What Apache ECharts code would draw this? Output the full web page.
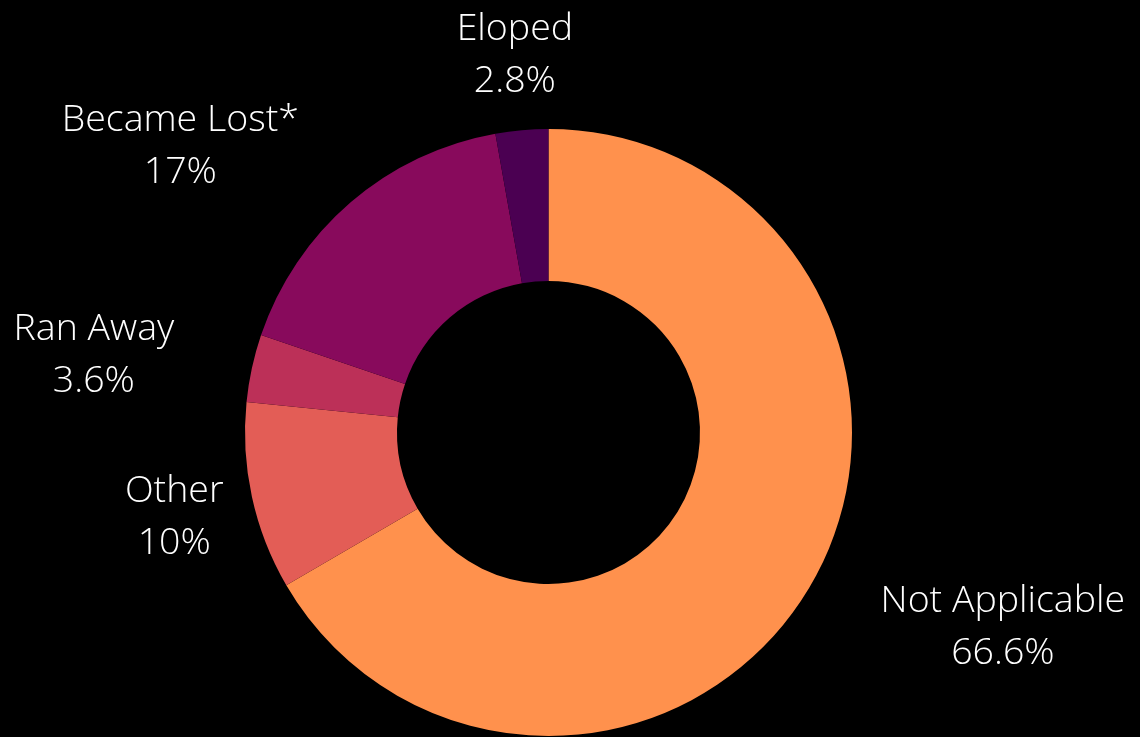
<!DOCTYPE html>
<html>
<head>
<meta charset="utf-8">
<script src="https://cdn.jsdelivr.net/npm/echarts@6/dist/echarts.min.js"></script>
<style>
  html, body { margin: 0; padding: 0; background: #000; }
  #chart { width: 1140px; height: 737px; }
</style>
</head>
<body>
<div id="chart"></div>
<script>
// Outcome categories, clockwise from 12 o'clock
const categories = ['Not Applicable', 'Other', 'Ran Away', 'Became Lost*', 'Eloped'];
const shares = [66.6, 10, 3.6, 17, 2.8];
const sliceColors = ['#ff914d', '#e35d56', '#bc3058', '#880a5c', '#4b0052'];

const CX = 548.5, CY = 432.5;      // pie centre (px)
const R_IN = 151.5, R_OUT = 303.5; // ring radii (px)
const R_LABEL = 383;               // label anchor radius (px)
const LABEL_DY = 4;                // baseline nudge for the label font

const total = shares.reduce((a, b) => a + b, 0);

function midAngle(i) {
  let before = 0;
  for (let j = 0; j < i; j++) before += shares[j];
  return (before + shares[i] / 2) / total * Math.PI * 2;
}

const chart = echarts.init(document.getElementById('chart'));
chart.setOption({
  backgroundColor: '#000',
  animation: false,
  series: [{
    type: 'pie',
    center: [CX, CY],
    radius: [R_IN, R_OUT],
    startAngle: 90,
    clockwise: true,
    avoidLabelOverlap: false,
    itemStyle: { borderWidth: 0 },
    label: {
      show: true,
      position: 'outside',
      formatter: p => p.name + '\n' + p.value + '%',
      color: '#ffffff',
      fontFamily: 'Open Sans',
      fontWeight: 300,
      fontSize: 37.5,
      lineHeight: 52,
      align: 'center'
    },
    labelLine: { show: false },
    // Centre each label on its slice's ray; if that box would cut into the
    // ring, push it sideways so its inner edge sits on the anchor instead.
    labelLayout: function (p) {
      const a = midAngle(p.dataIndex);
      const ax = CX + R_LABEL * Math.sin(a);
      const ay = CY - R_LABEL * Math.cos(a);
      const w = p.labelRect.width, h = p.labelRect.height;
      const l = ax - w / 2, r = ax + w / 2, t = ay - h / 2, b = ay + h / 2;
      const nx = Math.min(Math.max(CX, l), r);
      const ny = Math.min(Math.max(CY, t), b);
      const hits = Math.hypot(nx - CX, ny - CY) < R_OUT;
      let x = ax;
      if (hits) x = ax >= CX ? ax + w / 2 : ax - w / 2;
      return { x: x, y: ay + LABEL_DY, align: 'center', verticalAlign: 'middle' };
    },
    data: categories.map((name, i) => ({
      name: name,
      value: shares[i],
      itemStyle: { color: sliceColors[i] }
    }))
  }]
});
</script>
</body>
</html>
